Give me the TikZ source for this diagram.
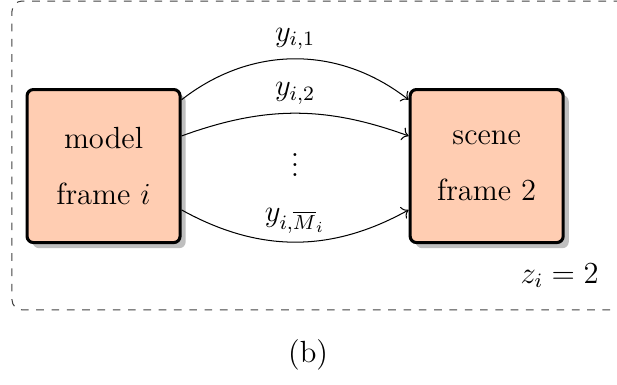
\documentclass[tikz,border=0pt]{standalone}
\usepackage{amsmath}
\usetikzlibrary{arrows.meta,positioning,calc,shadows}
\definecolor{boxfill}{RGB}{255,205,178}

\begin{document}
\begin{tikzpicture}[
                font=\large,
                node distance=10mm and 89pt,
                framebox/.style={draw, very thick, rounded corners=2.5pt, fill=boxfill, minimum width=60pt, minimum height=60pt, align=center,
                    drop shadow={fill=black!25, opacity=1, shadow xshift=2.2pt, shadow yshift=-2.2pt}},
                link/.style={->},
                group/.style={draw=black!75, dashed, rounded corners=4pt},
            ]

            \useasboundingbox (-40.6pt,65.1pt) rectangle (201.3pt,-85.8pt);
            \clip (-40.6pt,65.1pt) rectangle (201.3pt,-85.8pt);

            % ----- frames -----
            \node[framebox] (model) {model\\[7.8pt]frame $i$};
            \node[framebox, right=of model] (scene) {scene\\[7.8pt]frame 2};

            % ----- correspondences -----
            \draw[link] ([yshift=26pt]model.east) to[bend left=38] node[above] (y1) {$y_{i,1}$} ([yshift=26pt]scene.west);
            \draw[link] ([yshift=11.8pt]model.east) to[bend left=20] node[above] (y2) {$y_{i,2}$} ([yshift=11.8pt]scene.west);
            \draw[link] ([yshift=-17.2pt]model.east) to[bend right=29] node[above] (ym) {$y_{i,\overline{M}_i}$} ([yshift=-17.2pt]scene.west);
            \node (dots) at ($(model.east)!0.5!(scene.west)+(0,3.5pt)$) {$\vdots$};

            % ----- group (runs off to the right) -----
            \draw[group, overlay] (215pt,64.7pt) -| (-35.9pt,-56.4pt) -- (215pt,-56.4pt);
            \node[below=4pt of scene.south east, xshift=-2pt] (zlabel) {$z_i = 2$};

            \node (cap) at (80.2pt,-74.1pt) {(b)};

            \end{tikzpicture}
\end{document}
